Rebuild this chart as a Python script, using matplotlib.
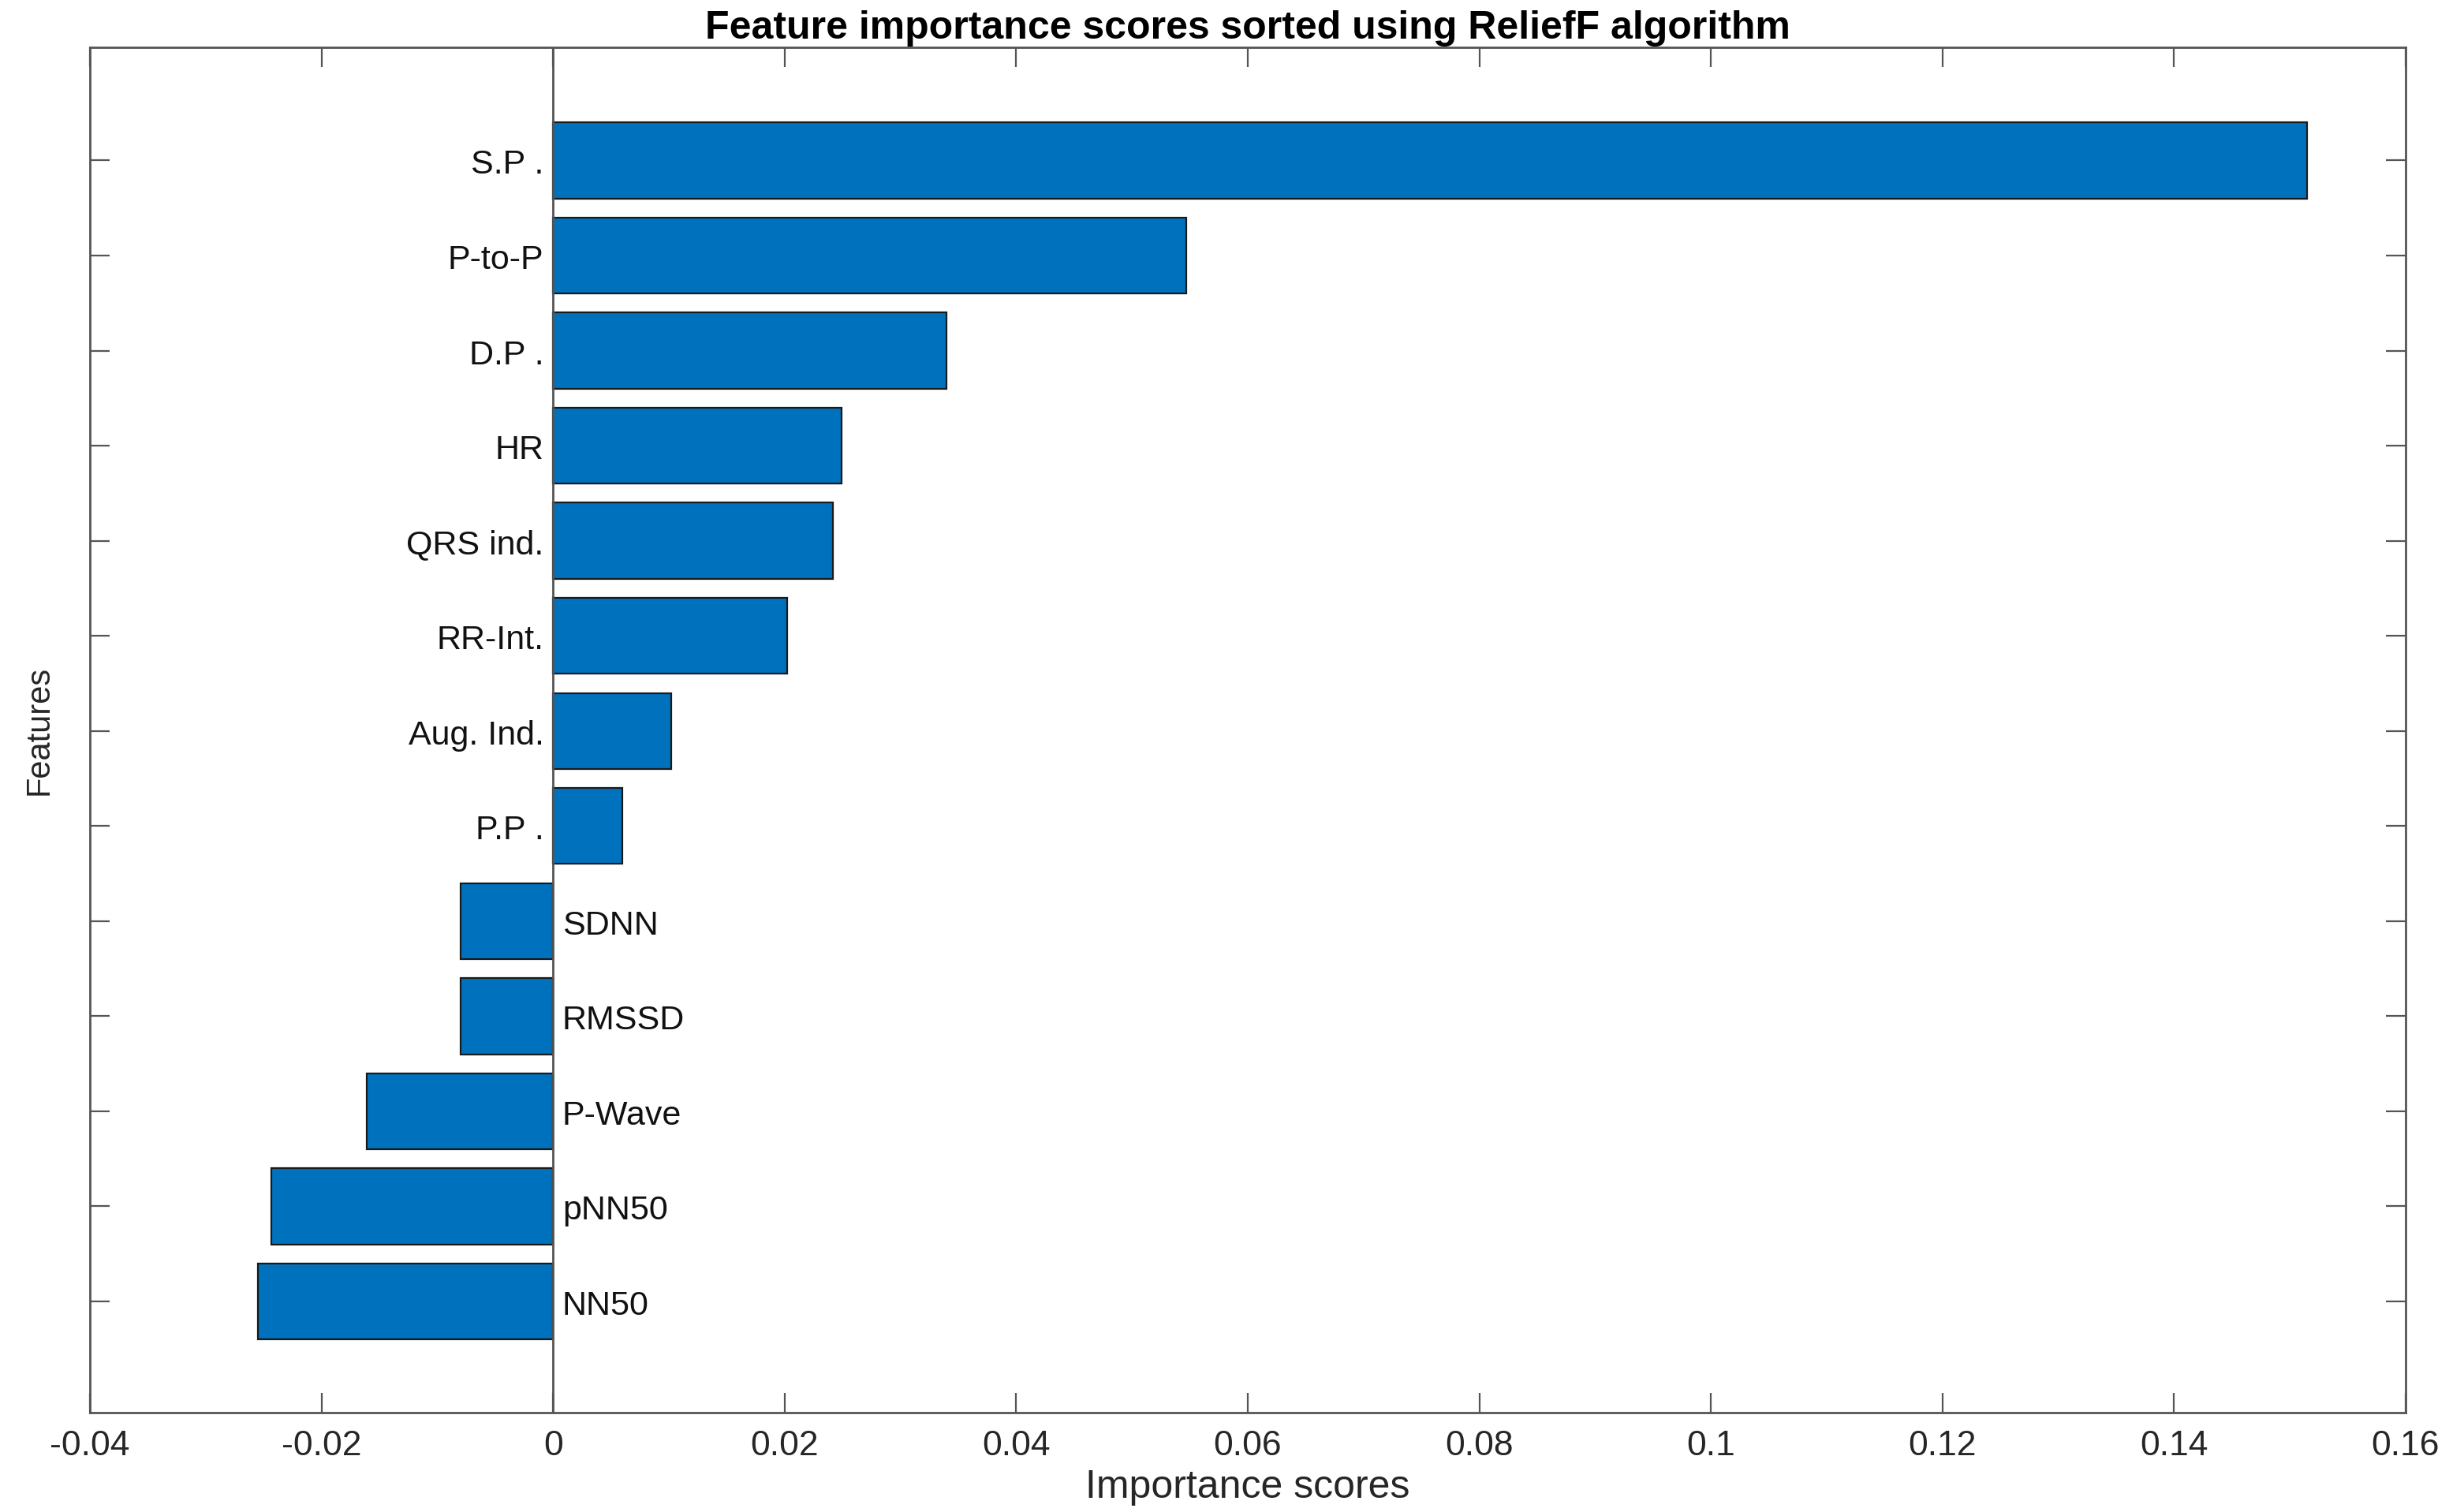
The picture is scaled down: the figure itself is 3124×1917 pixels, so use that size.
import matplotlib.pyplot as plt
import numpy as np

# Features from top to bottom, with their ReliefF importance scores
features = ['S.P .', 'P-to-P', 'D.P .', 'HR', 'QRS ind.', 'RR-Int.', 'Aug. Ind.',
            'P.P .', 'SDNN', 'RMSSD', 'P-Wave', 'pNN50', 'NN50']
scores = [0.1515, 0.0547, 0.0340, 0.0249, 0.0242, 0.0202, 0.0102,
          0.0060, -0.0080, -0.0080, -0.0161, -0.0243, -0.0255]
x_ticks = [-0.04, -0.02, 0, 0.02, 0.04, 0.06, 0.08, 0.1, 0.12, 0.14, 0.16]
x_tick_labels = ['-0.04', '-0.02', '0', '0.02', '0.04', '0.06', '0.08', '0.1', '0.12', '0.14', '0.16']

plt.rcParams['font.family'] = ['Liberation Sans', 'DejaVu Sans']

fig = plt.figure(figsize=(31.24, 19.17), dpi=100)
ax = fig.add_axes([0.0365, 0.0657, 0.9398, 0.903])

n = len(features)
ypos = np.arange(n, 0, -1)  # top feature gets the highest position

ax.barh(ypos, scores, height=0.8, color='#0072BD', edgecolor='#1a1a1a', linewidth=1.6, zorder=2)

# MATLAB style baseline through zero
ax.axvline(0, color='#555555', linewidth=2.0, zorder=3)

# feature names placed next to the zero line
offset = 0.0008
for y, name, s in zip(ypos, features, scores):
    if s >= 0:
        ax.text(-offset, y - 0.05, name, ha='right', va='center', fontsize=31, color='#111111', zorder=4)
    else:
        ax.text(offset, y - 0.05, name, ha='left', va='center', fontsize=31, color='#111111', zorder=4)

ax.set_xlim(-0.04, 0.16)
ax.set_ylim(-0.17, 14.19)
ax.set_xticks(x_ticks)
ax.set_xticklabels(x_tick_labels)
ax.set_yticks(ypos)
ax.set_yticklabels([])

ax.tick_params(axis='both', direction='in', length=18, width=1.6, color='#555555',
               top=True, right=True, labelsize=32, labelcolor='#262626', pad=16)
for sp in ax.spines.values():
    sp.set_color('#555555')
    sp.set_linewidth(2.0)

ax.set_title('Feature importance scores sorted using ReliefF algorithm',
             fontsize=36, fontweight='bold', pad=8)
ax.set_xlabel('Importance scores', fontsize=36, color='#262626', labelpad=6)
ax.set_ylabel('Features', fontsize=30, color='#262626', labelpad=16)

fig.savefig('out.png', dpi=100)
plt.close(fig)
